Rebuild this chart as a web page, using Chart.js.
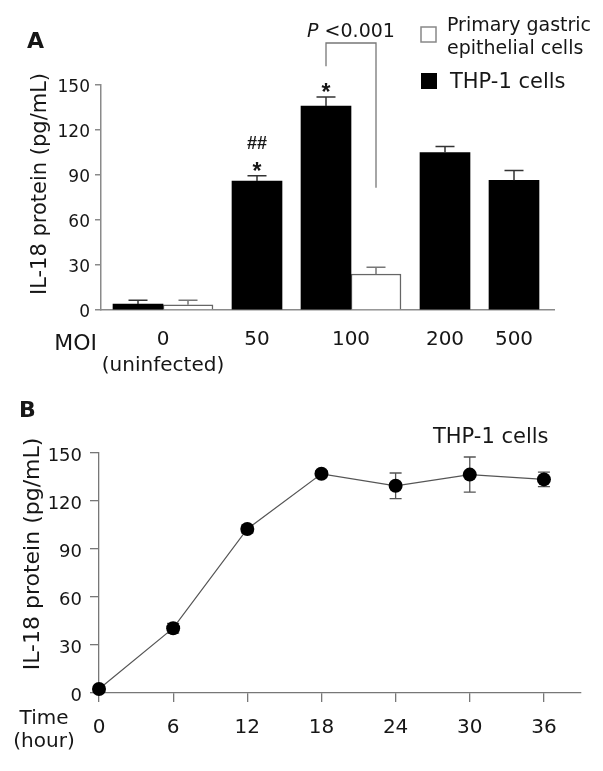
<!DOCTYPE html>
<html><head><meta charset="utf-8">
<script src="https://cdn.jsdelivr.net/npm/chart.js@4.4.0/dist/chart.umd.min.js"></script>
<style>
html,body{margin:0;padding:0;background:#fff;width:603px;height:771px;overflow:hidden}
#a{position:absolute;left:0;top:0}
#b{position:absolute;left:0;top:385px}
</style></head><body>
<canvas id="a" width="603" height="385"></canvas>
<canvas id="b" width="603" height="386"></canvas>
<script>
const FONT = '"DejaVu Sans", sans-serif';
const TEXT = '#161616';

// ---------- Panel A data ----------
const moiCategories = ['0', '50', '100', '200', '500'];
const moiSubLabels = ['(uninfected)', '', '', '', ''];
const thp1Values = [4, 86, 136, 105, 86.5];
const thp1Errors = [2.5, 3.5, 6, 4, 6.5];
const gastricValues = [3.5, null, 24, null, null];
const gastricErrors = [3, null, 4.5, null, null];
const yTicksA = [0, 30, 60, 90, 120, 150];

// ---------- Panel B data ----------
const hours = [0, 6, 12, 18, 24, 30, 36];
const thp1TimeValues = [2.5, 40.5, 102.5, 137, 129.5, 136.5, 133.5];
const thp1TimeErrors = [1.5, 3, 2.5, 2, 8, 11, 4.5];
const yTicksB = [0, 30, 60, 90, 120, 150];

// bars packed per MOI group (1 unit = 1 bar width), small gap between groups
const GROUP_GAP = 0.38;
const thp1Pts = [], gastricPts = [], groupCenters = [];
let cursor = 0;
moiCategories.forEach((c, i) => {
  const start = cursor;
  thp1Pts.push({x: cursor + 0.5, y: thp1Values[i], err: thp1Errors[i]});
  cursor += 1;
  if (gastricValues[i] !== null) {
    gastricPts.push({x: cursor + 0.5, y: gastricValues[i], err: gastricErrors[i], cat: i});
    cursor += 1;
  }
  groupCenters.push((start + cursor) / 2);
  cursor += GROUP_GAP;
});
const timePts = hours.map((h, i) => ({x: h, y: thp1TimeValues[i], err: thp1TimeErrors[i]}));

function txt(ctx, s, x, y, font, align, color) {
  ctx.save();
  ctx.font = font; ctx.fillStyle = color || TEXT;
  ctx.textAlign = align || 'left'; ctx.textBaseline = 'alphabetic';
  ctx.fillText(s, x, y);
  ctx.restore();
}
function vtxt(ctx, s, x, y, font) {
  ctx.save();
  ctx.translate(x, y); ctx.rotate(-Math.PI / 2);
  ctx.font = font; ctx.fillStyle = TEXT;
  ctx.textAlign = 'center'; ctx.textBaseline = 'alphabetic';
  ctx.fillText(s, 0, 0);
  ctx.restore();
}

const panelAPlugin = {
  id: 'panelA',
  afterDatasetsDraw(chart) {
    const ctx = chart.ctx, xs = chart.scales.x, ys = chart.scales.y;
    const half = 9.5;
    // upward error bars
    const drawErr = (p, color) => {
      const x = xs.getPixelForValue(p.x);
      const y0 = ys.getPixelForValue(p.y), y1 = ys.getPixelForValue(p.y + p.err);
      ctx.save(); ctx.strokeStyle = color; ctx.lineWidth = 1.5;
      ctx.beginPath(); ctx.moveTo(x, y0); ctx.lineTo(x, y1);
      ctx.moveTo(x - half, y1); ctx.lineTo(x + half, y1); ctx.stroke(); ctx.restore();
    };
    thp1Pts.forEach(p => drawErr(p, '#333'));
    gastricPts.forEach(p => drawErr(p, '#777'));

    // significance marks
    const capY = p => ys.getPixelForValue(p.y + p.err);
    const p50 = thp1Pts[1], p100 = thp1Pts[2];
    txt(ctx, '*', xs.getPixelForValue(p50.x), capY(p50) + 3, 'bold 23px "Liberation Sans", Arial', 'center');
    txt(ctx, '##', xs.getPixelForValue(p50.x), capY(p50) - 27, 'bold 18px "Liberation Sans", Arial', 'center');
    txt(ctx, '*', xs.getPixelForValue(p100.x), capY(p100) + 3, 'bold 23px "Liberation Sans", Arial', 'center');

    // P-value bracket between THP-1 and gastric at MOI 100
    const g100 = gastricPts.find(p => p.cat === 2);
    const xl = xs.getPixelForValue(p100.x), xr = xs.getPixelForValue(g100.x);
    const yTop = ys.getPixelForValue(178), yL = ys.getPixelForValue(162.5), yR = ys.getPixelForValue(81.5);
    ctx.save(); ctx.strokeStyle = '#777'; ctx.lineWidth = 1.3;
    ctx.beginPath(); ctx.moveTo(xl, yL); ctx.lineTo(xl, yTop); ctx.lineTo(xr, yTop); ctx.lineTo(xr, yR); ctx.stroke();
    ctx.restore();
    ctx.save();
    ctx.font = 'italic 19px ' + FONT;
    const wP = ctx.measureText('P').width;
    ctx.font = '19px ' + FONT;
    const wR = ctx.measureText(' <0.001').width;
    ctx.restore();
    const cx = (xl + xr) / 2, left = cx - (wP + wR) / 2;
    txt(ctx, 'P', left, 37, 'italic 19px ' + FONT);
    txt(ctx, ' <0.001', left + wP, 37, '19px ' + FONT);

    // legend
    ctx.save();
    ctx.fillStyle = '#fff'; ctx.strokeStyle = '#888'; ctx.lineWidth = 1.5;
    ctx.fillRect(421, 27, 15, 15); ctx.strokeRect(421, 27, 15, 15);
    ctx.fillStyle = '#000'; ctx.fillRect(421, 73, 16, 16);
    ctx.restore();
    txt(ctx, 'Primary gastric', 447, 30.5, '19px ' + FONT);
    txt(ctx, 'epithelial cells', 447, 54.3, '19px ' + FONT);
    txt(ctx, 'THP-1 cells', 450, 88.3, '21px ' + FONT);

    // panel letter, axis titles
    txt(ctx, 'A', 27, 48, 'bold 22px ' + FONT);
    vtxt(ctx, 'IL-18 protein (pg/mL)', 46, 184, '21px ' + FONT);
    txt(ctx, 'MOI', 97, 350, '22px ' + FONT, 'right');
  }
};

new Chart(document.getElementById('a'), {
  type: 'bar',
  data: {
    datasets: [
      {label: 'THP-1 cells', data: thp1Pts, backgroundColor: '#000', borderWidth: 0,
       grouped: false, barPercentage: 1, categoryPercentage: 1},
      {label: 'Primary gastric epithelial cells', data: gastricPts, backgroundColor: '#fff',
       borderColor: '#666', borderWidth: 1.5, grouped: false, barPercentage: 1, categoryPercentage: 1}
    ]
  },
  options: {
    responsive: false, animation: false, devicePixelRatio: 1,
    layout: {padding: {top: 85, right: 49, left: 0, bottom: 0}},
    plugins: {legend: {display: false}, tooltip: {enabled: false}},
    scales: {
      x: {
        type: 'linear', offset: false, min: -0.24, max: 8.82,
        grid: {display: true, offset: false, drawOnChartArea: false, drawTicks: false},
        border: {display: true, color: '#8a8a8a', width: 1.5},
        afterBuildTicks: s => { s.ticks = groupCenters.map(v => ({value: v})); },
        afterFit: s => { s.height = 75; },
        ticks: {
          font: {family: FONT, size: 20, lineHeight: 1.3}, color: TEXT, padding: 17,
          maxRotation: 0, autoSkip: false, includeBounds: false,
          callback: (v, i) => moiSubLabels[i] ? [moiCategories[i], moiSubLabels[i]] : moiCategories[i]
        }
      },
      y: {
        min: 0, max: 150,
        afterBuildTicks: s => { s.ticks = yTicksA.map(v => ({value: v})); },
        afterFit: s => { s.width = 101; },
        grid: {drawOnChartArea: false, tickLength: 6, color: '#8a8a8a', lineWidth: 1.5},
        border: {color: '#8a8a8a', width: 1.5},
        ticks: {font: {family: FONT, size: 17}, color: TEXT, padding: 5, labelOffset: 3}
      }
    }
  },
  plugins: [panelAPlugin]
});

const panelBPlugin = {
  id: 'panelB',
  beforeDatasetsDraw(chart) {
    const ctx = chart.ctx, xs = chart.scales.x, ys = chart.scales.y;
    const half = 6;
    ctx.save(); ctx.strokeStyle = '#555'; ctx.lineWidth = 1.3;
    timePts.forEach(p => {
      const x = xs.getPixelForValue(p.x);
      const y1 = ys.getPixelForValue(p.y + p.err), y2 = ys.getPixelForValue(p.y - p.err);
      ctx.beginPath(); ctx.moveTo(x, y1); ctx.lineTo(x, y2);
      ctx.moveTo(x - half, y1); ctx.lineTo(x + half, y1);
      ctx.moveTo(x - half, y2); ctx.lineTo(x + half, y2); ctx.stroke();
    });
    ctx.restore();
  },
  afterDraw(chart) {
    const ctx = chart.ctx;
    txt(ctx, 'B', 19, 32, 'bold 22px ' + FONT);
    vtxt(ctx, 'IL-18 protein (pg/mL)', 38.5, 169, '22px ' + FONT);
    txt(ctx, 'THP-1 cells', 433, 58.3, '21px ' + FONT);
    txt(ctx, 'Time', 44, 339, '20px ' + FONT, 'center');
    txt(ctx, '(hour)', 44, 362, '20px ' + FONT, 'center');
  }
};

new Chart(document.getElementById('b'), {
  type: 'line',
  data: {
    datasets: [{
      label: 'THP-1 cells', data: timePts, borderColor: '#555', borderWidth: 1.2,
      pointRadius: 7, pointBackgroundColor: '#000', pointBorderColor: '#000', pointBorderWidth: 0,
      tension: 0, clip: false, fill: false
    }]
  },
  options: {
    responsive: false, animation: false, devicePixelRatio: 1,
    layout: {padding: {top: 68, right: 22, left: 0, bottom: 0}},
    plugins: {legend: {display: false}, tooltip: {enabled: false}},
    scales: {
      x: {
        type: 'linear', min: 0, max: 39,
        afterBuildTicks: s => { s.ticks = hours.map(v => ({value: v})); },
        afterFit: s => { s.height = 78; },
        grid: {drawOnChartArea: false, tickLength: 9, color: '#777', lineWidth: 1.3},
        border: {color: '#777', width: 1.3},
        ticks: {font: {family: FONT, size: 20}, color: TEXT, padding: 14, maxRotation: 0, autoSkip: false}
      },
      y: {
        min: 0, max: 150,
        afterBuildTicks: s => { s.ticks = yTicksB.map(v => ({value: v})); },
        afterFit: s => { s.width = 99; },
        grid: {drawOnChartArea: false, tickLength: 9, color: '#777', lineWidth: 1.3},
        border: {color: '#777', width: 1.3},
        ticks: {font: {family: FONT, size: 18}, color: TEXT, padding: 8, labelOffset: 3}
      }
    }
  },
  plugins: [panelBPlugin]
});
</script>
</body></html>
